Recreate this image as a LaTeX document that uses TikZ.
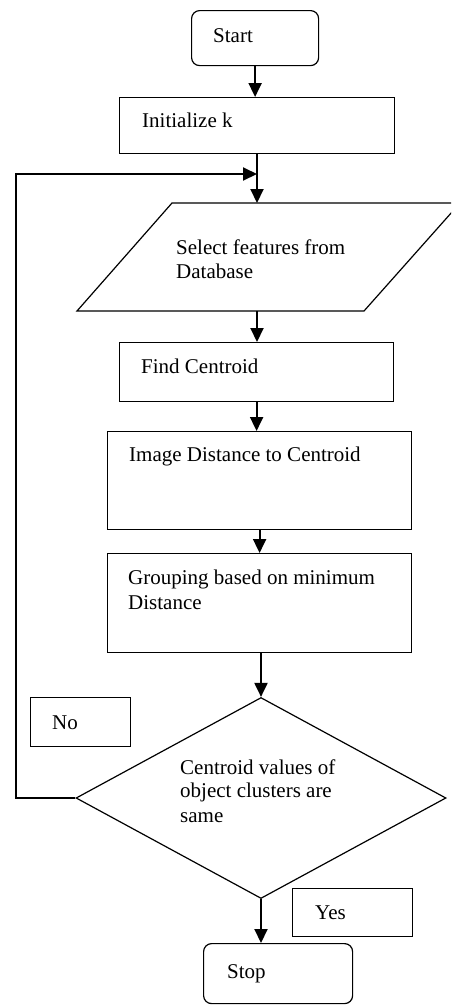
\documentclass[tikz,border=0pt]{standalone}
\usepackage{fontspec}
\setmainfont{Liberation Serif}
\usetikzlibrary{shapes.geometric,arrows.meta}

\tikzset{
  boxline/.style={draw, line width=1.2pt},
  procbox/.style={boxline, rectangle, inner sep=0pt, anchor=north west},
  termbox/.style={procbox, rounded corners=8pt},
  lbl/.style={anchor=base west, inner sep=0pt, font=\fontsize{21}{25}\selectfont},
  conn/.style={line width=2pt, -{Triangle[length=14pt,width=13pt]}},
  plainline/.style={line width=2pt}
}

\begin{document}
\begin{tikzpicture}[x=1pt, y=-1pt]
  \useasboundingbox (0,0) rectangle (451,1005);
  \fill[white] (0,0) rectangle (451,1005);
  \clip (0,0) rectangle (451,1005);

  % terminals and process boxes
  \node[termbox, minimum width=127pt, minimum height=55pt] (start) at (191,10) {};
  \node[lbl] (startT) at (213,42) {Start};

  \node[procbox, minimum width=275pt, minimum height=56pt] (init) at (119,97) {};
  \node[lbl] (initT) at (142,127) {Initialize k};

  % input parallelogram
  \coordinate (selN) at (257,203);
  \coordinate (selS) at (257,311);
  \draw[boxline] (172,203) -- (460,203) -- (364,311) -- (77,311) -- cycle;
  \node[lbl] (selT1) at (176,254) {Select features from};
  \node[lbl] (selT2) at (176,278) {Database};

  \node[procbox, minimum width=274pt, minimum height=59pt] (find) at (119,342) {};
  \node[lbl] (findT) at (141,373) {Find Centroid};

  \node[procbox, minimum width=304pt, minimum height=98pt] (dist) at (107,431) {};
  \node[lbl] (distT) at (129,461) {Image Distance to Centroid};

  \node[procbox, minimum width=304pt, minimum height=99pt] (group) at (107,553) {};
  \node[lbl] (groupT1) at (128,584) {Grouping based on minimum};
  \node[lbl] (groupT2) at (128,609) {Distance};

  % decision
  \node[boxline, diamond, minimum width=370pt, minimum height=201pt, inner sep=0pt] (dec) at (261,798) {};
  \node[lbl] (decT1) at (180,774) {Centroid values of};
  \node[lbl] (decT2) at (180,797) {object clusters are};
  \node[lbl] (decT3) at (180,822) {same};

  % branch labels
  \node[procbox, minimum width=100pt, minimum height=49pt] (no) at (30,697) {};
  \node[lbl] (noT) at (52,729) {No};
  \node[procbox, minimum width=120pt, minimum height=48pt] (yes) at (292,888) {};
  \node[lbl] (yesT) at (315,919) {Yes};

  \node[termbox, minimum width=149pt, minimum height=60pt] (stop) at (203,943) {};
  \node[lbl] (stopT) at (227,978) {Stop};

  % connectors
  \coordinate (back) at (16,174);
  \coordinate (join) at (257,174);
  \draw[conn] (start.south) -- (start.south |- init.north);
  \draw[conn] (init.south -| selN) -- (selN);
  \draw[conn] (selS) -- (selS |- find.north);
  \draw[conn] (find.south) -- (find.south |- dist.north);
  \draw[conn] (dist.south) -- (group.north);
  \draw[conn] (group.south -| dec.north) -- (dec.north);
  \draw[conn] (dec.west) -| (back) -- (join);
  \draw[conn] (dec.south) -- (dec.south |- stop.north);
\end{tikzpicture}
\end{document}
